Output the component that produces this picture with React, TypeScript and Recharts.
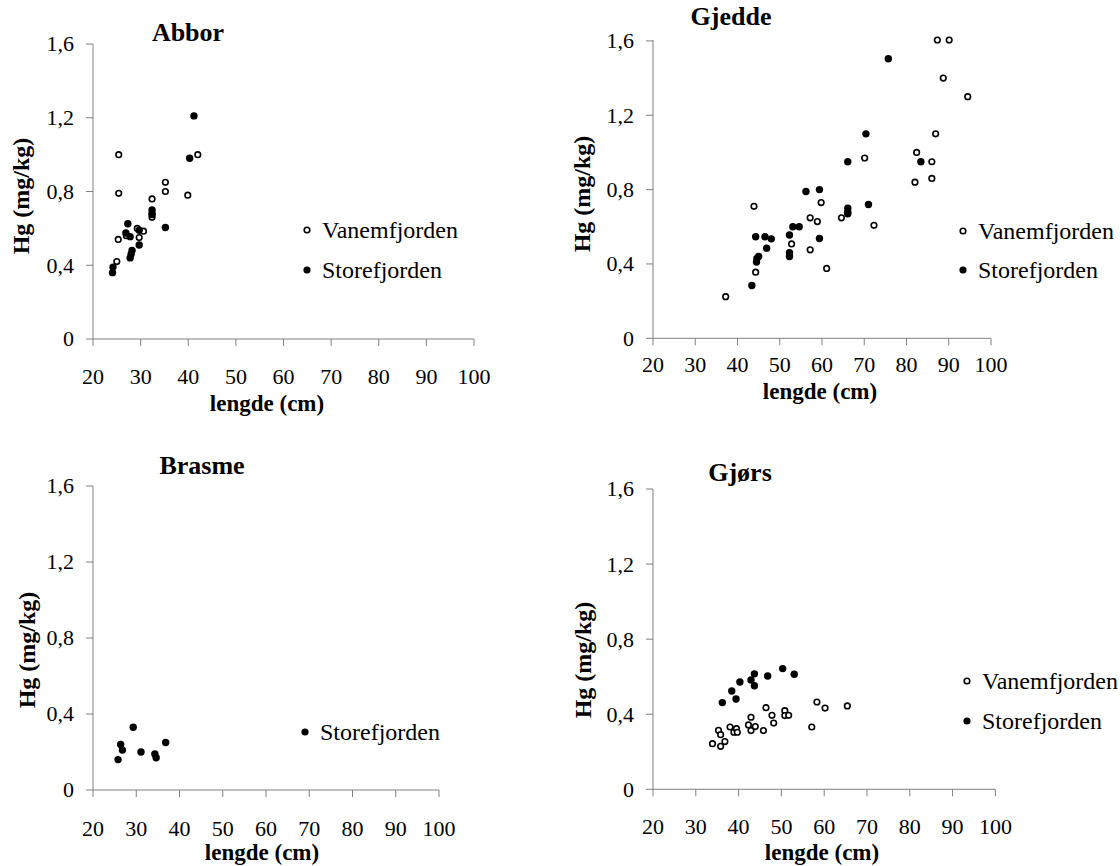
import { Scatter, ScatterChart, XAxis, YAxis } from "recharts";

const FONT = '"Liberation Serif", "Times New Roman", serif';

// aksemerker
const lengdeTicks = [20, 30, 40, 50, 60, 70, 80, 90, 100];
const hgTicks = [0, 0.4, 0.8, 1.2, 1.6];

// [lengde (cm), Hg (mg/kg)]
const abborVanem: [number, number][] = [
  [25.4, 1.0], [25.4, 0.79], [25.3, 0.54], [25.0, 0.42], [27.0, 0.56], [29.3, 0.6],
  [29.7, 0.55], [30.6, 0.585], [32.4, 0.76], [32.4, 0.66], [32.4, 0.68], [35.2, 0.85],
  [35.2, 0.8], [39.9, 0.78], [42.0, 1.0],
];
const abborStore: [number, number][] = [
  [24.1, 0.36], [24.2, 0.39], [27.3, 0.625], [26.9, 0.575], [27.8, 0.555], [28.2, 0.48],
  [28.0, 0.46], [27.8, 0.44], [29.7, 0.51], [29.7, 0.59], [32.4, 0.7], [32.4, 0.675],
  [35.2, 0.605], [40.3, 0.98], [41.2, 1.21],
];
const gjeddeVanem: [number, number][] = [
  [37.2, 0.224], [43.9, 0.71], [44.3, 0.356], [52.8, 0.508], [57.2, 0.476], [57.2, 0.648],
  [58.9, 0.628], [59.8, 0.73], [61.1, 0.376], [64.6, 0.648], [70.1, 0.97], [72.3, 0.608],
  [82.0, 0.84], [82.4, 1.0], [86.0, 0.95], [86.0, 0.86], [86.9, 1.1], [87.3, 1.605],
  [88.7, 1.4], [90.1, 1.605], [94.5, 1.3],
];
const gjeddeStore: [number, number][] = [
  [43.4, 0.284], [44.3, 0.546], [44.5, 0.41], [44.6, 0.43], [45.0, 0.44], [46.5, 0.546],
  [46.9, 0.485], [48.0, 0.535], [52.3, 0.556], [52.3, 0.46], [52.3, 0.44], [53.1, 0.6],
  [54.6, 0.6], [56.2, 0.79], [59.4, 0.8], [59.4, 0.537], [66.1, 0.95], [66.1, 0.7],
  [66.1, 0.68], [66.1, 0.67], [70.4, 1.1], [71.0, 0.72], [75.7, 1.504], [83.4, 0.95],
];
const brasmeStore: [number, number][] = [
  [25.8, 0.16], [26.4, 0.24], [26.8, 0.21], [29.3, 0.33], [31.1, 0.2], [34.3, 0.19],
  [34.6, 0.17], [36.8, 0.25],
];
const gjorsVanem: [number, number][] = [
  [33.9, 0.243], [35.3, 0.314], [35.8, 0.291], [35.8, 0.229], [36.8, 0.254], [38.0, 0.332],
  [38.9, 0.304], [39.5, 0.323], [39.7, 0.304], [42.3, 0.343], [42.9, 0.384], [42.9, 0.313],
  [43.9, 0.334], [45.8, 0.313], [46.4, 0.435], [47.8, 0.394], [48.2, 0.353], [50.8, 0.419],
  [50.8, 0.393], [51.7, 0.394], [57.1, 0.332], [58.3, 0.465], [60.2, 0.433], [65.4, 0.444],
];
const gjorsStore: [number, number][] = [
  [36.2, 0.462], [38.4, 0.524], [39.4, 0.481], [40.3, 0.572], [42.9, 0.583], [43.7, 0.615],
  [43.7, 0.552], [46.8, 0.604], [50.3, 0.643], [53.0, 0.613],
];

const toPts = (arr: [number, number][]) => arr.map(([x, y]) => ({ x, y }));

const OpenDot = (p: any) => <circle cx={p.cx} cy={p.cy} r={2.8} fill="#fff" stroke="#000" strokeWidth={1.6} />;
const FullDot = (p: any) => <circle cx={p.cx} cy={p.cy} r={3.7} fill="#000" />;

const XTick = (p: any) => (
  <text x={p.x} y={p.y} dy="0.71em" textAnchor="middle" fontFamily={FONT} fontSize={22} fill="#000">
    {p.payload.value}
  </text>
);
const YTick = (p: any) => (
  <text x={p.x} y={p.y} dy="0.34em" textAnchor="end" fontFamily={FONT} fontSize={22} fill="#000">
    {String(p.payload.value).replace(".", ",")}
  </text>
);

type Serie = { data: [number, number][]; open: boolean };

// luft rundt plottet, så tekst i kantene ikke klippes
const PAD_T = 20;
const PAD_L = 70;
const PAD_R = 30;

function Panel(props: {
  x0: number; x1: number; y0: number; y1: number; gap: number; series: Serie[];
}) {
  const { x0, x1, y0, y1, gap, series } = props;
  const w = x1 - x0 + PAD_L + PAD_R;
  const h = y1 - y0 + PAD_T + 60;
  return (
    <div style={{ position: "absolute", left: x0 - PAD_L, top: y0 - PAD_T, width: w, height: h }}>
      <ScatterChart width={w} height={h} margin={{ top: PAD_T, right: PAD_R, bottom: 0, left: 0 }}>
        <XAxis
          type="number"
          dataKey="x"
          domain={[20, 100]}
          ticks={lengdeTicks}
          interval={0}
          height={60}
          tick={<XTick />}
          tickSize={7}
          tickMargin={gap}
          stroke="#808080"
          tickLine={{ stroke: "#808080" }}
        />
        <YAxis
          type="number"
          dataKey="y"
          domain={[0, 1.6]}
          ticks={hgTicks}
          interval={0}
          width={PAD_L}
          tick={<YTick />}
          tickSize={7}
          tickMargin={12}
          stroke="#808080"
          tickLine={{ stroke: "#808080" }}
        />
        {series.map((s, i) => (
          <Scatter
            key={i}
            data={toPts(s.data)}
            shape={s.open ? OpenDot : FullDot}
            isAnimationActive={false}
          />
        ))}
      </ScatterChart>
    </div>
  );
}

function Txt(props: { x: number; y: number; bold?: boolean; size?: number; rotate?: boolean; left?: boolean; children: any }) {
  const { x, y, bold, size = 24, rotate, left, children } = props;
  return (
    <div
      style={{
        position: "absolute",
        left: x,
        top: y,
        transform: left
          ? "translate(0,-50%)"
          : `translate(-50%,-50%)${rotate ? " rotate(-90deg)" : ""}`,
        fontFamily: FONT,
        fontWeight: bold ? "bold" : "normal",
        fontSize: size,
        whiteSpace: "nowrap",
        color: "#000",
        lineHeight: 1,
      }}
    >
      {children}
    </div>
  );
}

function LegendRow(props: { x: number; y: number; open: boolean; label: string }) {
  const { x, y, open, label } = props;
  return (
    <>
      <svg style={{ position: "absolute", left: x - 6, top: y - 6 }} width={12} height={12}>
        {open ? (
          <circle cx={6} cy={6} r={2.8} fill="#fff" stroke="#000" strokeWidth={1.6} />
        ) : (
          <circle cx={6} cy={6} r={3.6} fill="#000" />
        )}
      </svg>
      <Txt x={x + 15} y={y} left>
        {label}
      </Txt>
    </>
  );
}

export default function App() {
  return (
    <div style={{ position: "absolute", left: 0, top: 0, width: 1120, height: 866, background: "#fff", overflow: "hidden" }}>
      {/* Abbor */}
      <Panel x0={92.5} x1={473.5} y0={44} y1={339} gap={22}
        series={[{ data: abborVanem, open: true }, { data: abborStore, open: false }]} />
      <Txt x={188} y={33} bold size={26}>Abbor</Txt>
      <Txt x={21} y={196} bold size={24} rotate>Hg (mg/kg)</Txt>
      <Txt x={267} y={403} bold size={23}>lengde (cm)</Txt>
      <LegendRow x={307} y={230} open label="Vanemfjorden" />
      <LegendRow x={307} y={270} open={false} label="Storefjorden" />

      {/* Gjedde */}
      <Panel x0={652.7} x1={990.7} y0={40} y1={338.3} gap={11}
        series={[{ data: gjeddeVanem, open: true }, { data: gjeddeStore, open: false }]} />
      <Txt x={731} y={17} bold size={26}>Gjedde</Txt>
      <Txt x={582} y={194} bold size={24} rotate>Hg (mg/kg)</Txt>
      <Txt x={820} y={391} bold size={23}>lengde (cm)</Txt>
      <LegendRow x={963} y={231} open label="Vanemfjorden" />
      <LegendRow x={963} y={270} open={false} label="Storefjorden" />

      {/* Brasme */}
      <Panel x0={92.6} x1={438.6} y0={486} y1={790} gap={23}
        series={[{ data: brasmeStore, open: false }]} />
      <Txt x={202} y={466} bold size={26}>Brasme</Txt>
      <Txt x={27} y={650} bold size={24} rotate>Hg (mg/kg)</Txt>
      <Txt x={262} y={852} bold size={23}>lengde (cm)</Txt>
      <LegendRow x={305} y={732} open={false} label="Storefjorden" />

      {/* Gjørs */}
      <Panel x0={652.6} x1={995} y0={488.7} y1={789} gap={22}
        series={[{ data: gjorsVanem, open: true }, { data: gjorsStore, open: false }]} />
      <Txt x={740} y={473} bold size={26}>Gjørs</Txt>
      <Txt x={583} y={660} bold size={24} rotate>Hg (mg/kg)</Txt>
      <Txt x={822} y={852} bold size={23}>lengde (cm)</Txt>
      <LegendRow x={967} y={681} open label="Vanemfjorden" />
      <LegendRow x={967} y={721} open={false} label="Storefjorden" />
    </div>
  );
}
